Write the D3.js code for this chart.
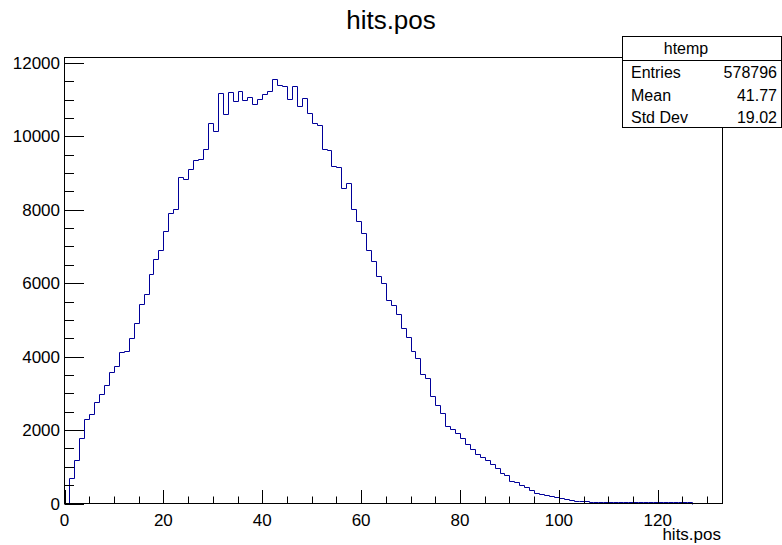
<!DOCTYPE html>
<html>
  <head>
    <meta charset="utf-8" />
    <script src="https://cdn.jsdelivr.net/npm/d3@7"></script>
    <style>
      body { margin: 0; background: #ffffff; }
      text { font-family: "Liberation Sans", Arial, sans-serif; fill: #000000; }
      .frame { stroke: #000000; fill: none; }
      .hist { stroke: #000099; fill: none; stroke-width: 1; }
      .tick { stroke: #000000; }
    </style>
  </head>
  <body>
    <svg width="782" height="545"></svg>

    <script type="text/javascript">

    // bin contents, bins [1,2], [2,3], ... [126,127]
    var binLow = 1;
    var counts = [
      690, 1184, 1774, 2299, 2435, 2770, 2975, 3215, 3587, 3741,
      4114, 4150, 4495, 4920, 5420, 5709, 6253, 6645, 6898, 7434,
      7924, 8022, 8893, 8830, 9110, 9355, 9390, 9655, 10372, 10155,
      11179, 10599, 11206, 10952, 11224, 10988, 11070, 10871, 11016, 11161,
      11233, 11570, 11396, 11360, 11007, 11369, 10816, 11052, 10645, 10367,
      10299, 9665, 9627, 9180, 9170, 8585, 8740, 8033, 7706, 7361,
      6898, 6617, 6182, 6008, 5537, 5401, 5148, 4767, 4522, 4141,
      3959, 3532, 3423, 2925, 2672, 2460, 2120, 2023, 1910, 1774,
      1625, 1497, 1360, 1274, 1184, 1067, 974, 838, 776, 621,
      585, 495, 449, 359, 294, 259, 231, 204, 177, 141,
      122, 95, 76, 68, 56, 52, 47, 44, 40, 38,
      37, 36, 35, 35, 34, 34, 33, 33, 32, 32,
      31, 31, 31, 30, 30, 30
    ];

    var xTicks = [0, 20, 40, 60, 80, 100, 120];
    var yTicks = [0, 2000, 4000, 6000, 8000, 10000, 12000];

    var statsRows = [
      ["Entries", "578796"],
      ["Mean", "41.77"],
      ["Std Dev", "19.02"]
    ];

    var svg = d3.select("svg");

    var x = d3.scaleLinear().domain([0, 133.1]).range([64.5, 722.5]);
    var y = d3.scaleLinear().domain([0, 12145]).range([503.5, 57.5]);

    // histogram outline
    var pts = [[binLow, 0]];
    counts.forEach(function(c, i) {
      pts.push([binLow + i, c]);
      pts.push([binLow + i + 1, c]);
    });
    pts.push([binLow + counts.length, 0]);

    var line = d3.line()
        .x(function(d) { return Math.round(x(d[0])) + 0.5; })
        .y(function(d) { return Math.round(y(d[1])) + 0.5; });

    svg.append("path").attr("class", "hist").attr("d", line(pts));

    // frame
    svg.append("rect").attr("class", "frame")
        .attr("x", 64.5).attr("y", 57.5).attr("width", 658).attr("height", 446);

    // x ticks
    var xMinor = d3.range(0, 133, 5);
    svg.selectAll(".xt").data(xMinor).enter().append("line")
        .attr("class", "tick")
        .attr("x1", function(d) { return Math.round(x(d)) + 0.5; })
        .attr("x2", function(d) { return Math.round(x(d)) + 0.5; })
        .attr("y1", 503.5)
        .attr("y2", function(d) { return xTicks.indexOf(d) >= 0 ? 490 : 496.5; });

    svg.selectAll(".xl").data(xTicks).enter().append("text")
        .attr("x", function(d) { return x(d); })
        .attr("y", 526)
        .attr("text-anchor", "middle")
        .style("font-size", "17px")
        .text(function(d) { return d; });

    // y ticks
    var yMinor = d3.range(0, 12001, 500);
    svg.selectAll(".yt").data(yMinor).enter().append("line")
        .attr("class", "tick")
        .attr("y1", function(d) { return Math.round(y(d)) + 0.5; })
        .attr("y2", function(d) { return Math.round(y(d)) + 0.5; })
        .attr("x1", 64.5)
        .attr("x2", function(d) { return yTicks.indexOf(d) >= 0 ? 84 : 74; });

    svg.selectAll(".yl").data(yTicks).enter().append("text")
        .attr("x", 60)
        .attr("y", function(d) { return y(d) + 6; })
        .attr("text-anchor", "end")
        .style("font-size", "17px")
        .text(function(d) { return d; });

    // titles
    svg.append("text").attr("x", 391).attr("y", 29)
        .attr("text-anchor", "middle").style("font-size", "26px").text("hits.pos");

    svg.append("text").attr("x", 721).attr("y", 540)
        .attr("text-anchor", "end").style("font-size", "17px").text("hits.pos");

    // stats box
    var box = svg.append("g");
    box.append("rect").attr("x", 622.5).attr("y", 36.5).attr("width", 159).attr("height", 91)
        .attr("fill", "#ffffff").attr("stroke", "#000000");
    box.append("line").attr("x1", 622.5).attr("x2", 781.5).attr("y1", 60.5).attr("y2", 60.5)
        .attr("stroke", "#000000");
    box.append("text").attr("x", 686).attr("y", 54).attr("text-anchor", "middle")
        .style("font-size", "16px").text("htemp");

    statsRows.forEach(function(r, i) {
      box.append("text").attr("x", 631).attr("y", 78 + i * 22.5)
          .style("font-size", "16px").text(r[0]);
      box.append("text").attr("x", 777).attr("y", 78 + i * 22.5)
          .attr("text-anchor", "end").style("font-size", "16px").text(r[1]);
    });

    </script>
  </body>
</html>
